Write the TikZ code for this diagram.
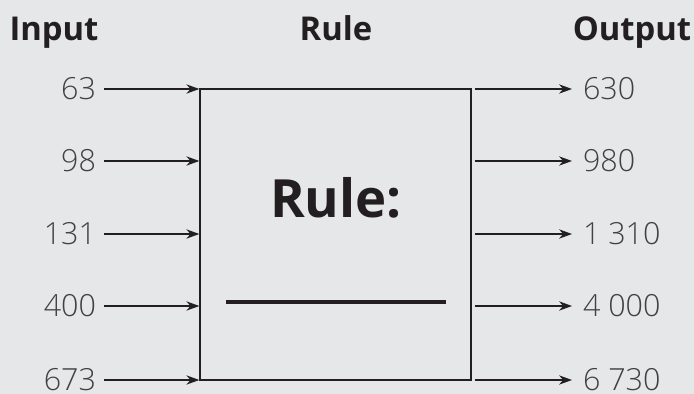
\documentclass[tikz,border=0pt]{standalone}
\usepackage{fontspec}
\setmainfont{Open Sans}
\newfontfamily\numfont{Open Sans Light}
\usetikzlibrary{arrows.meta,positioning}
\definecolor{bg}{HTML}{E6E7E8}
\definecolor{ink}{HTML}{231F20}
\definecolor{numgray}{HTML}{414042}

\begin{document}
\begin{tikzpicture}[x=0.03cm,y=-0.03cm,
  head/.style={font=\bfseries\fontsize{28}{32}\selectfont,text=ink,anchor=base},
  num/.style={font=\numfont\fontsize{26}{30}\selectfont,text=numgray,inner sep=0pt},
  feed/.style={draw=ink,line width=1.1pt,-{Stealth[length=0.39cm,width=0.28cm]}}]
  \fill[bg] (0,0) rectangle (694,394);
  \useasboundingbox (0,0) rectangle (694,394);
  \node[draw=ink,line width=1.1pt,minimum width=8.13cm,minimum height=8.73cm,inner sep=0pt] (rule) at (335.5,234.5) {};
  \node[head] (inhead) at (54,41) {Input};
  \node[head] (rulehead) at (336,41) {Rule};
  \node[head] (outhead) at (632,41) {Output};
  \node[anchor=base,font=\bfseries\fontsize{45}{50}\selectfont,text=ink] (rulelabel) at (336,217) {Rule:};
  \draw[ink,line width=3.4pt] (226,302) -- (446,302);
  \foreach \y/\a/\b [count=\i] in {89/63/630,161/98/980,234/131/{1 310},306/400/{4 000},380/673/{6 730}}{
    \node[num,anchor=east,outer xsep=0.24cm] (in\i) at (104,\y) {\a};
    \node[num,anchor=west,outer xsep=0.33cm] (out\i) at (572,\y) {\b};
    \draw[feed] (in\i) -- (rule.west |- in\i);
    \draw[feed,shorten <=0.1cm] (rule.east |- out\i) -- (out\i);
  }
\end{tikzpicture}
\end{document}
